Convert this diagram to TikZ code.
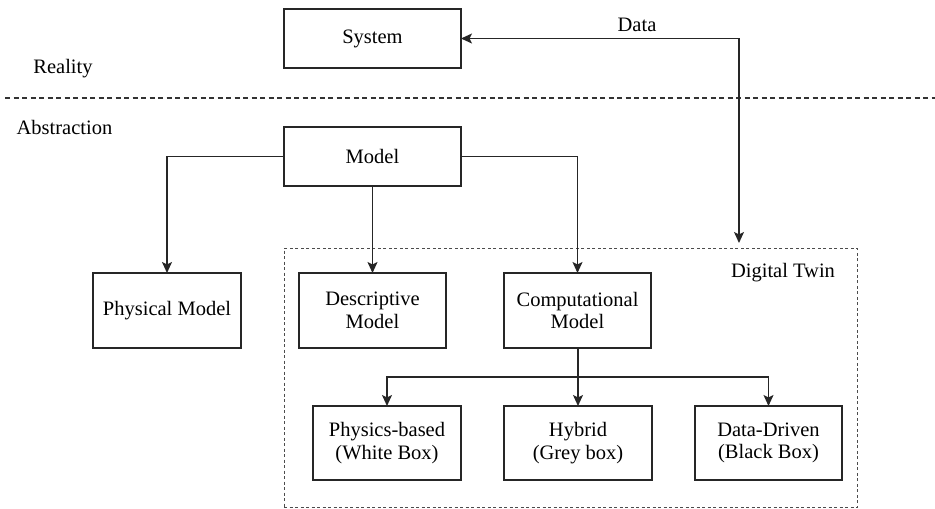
\documentclass[tikz,border=0pt]{standalone}
\usepackage{fontspec}
\setmainfont{Liberation Serif}
\newfontfamily\diagramfont{Liberation Serif}
\usetikzlibrary{arrows.meta}
\begin{document}
\begin{tikzpicture}[x=1pt,y=-1pt,
  font=\diagramfont\fontsize{20.5}{22.5}\selectfont,
  box/.style={draw=black!85, line width=1.5pt, align=center, inner sep=0pt, outer sep=0pt},
  wide/.style={box, minimum width=177pt, minimum height=59pt},
  mid/.style={box, minimum width=147pt, minimum height=75pt},
  low/.style={box, minimum width=147pt, minimum height=74pt},
  tip/.tip={Stealth[length=11pt,width=10pt,inset=2.5pt]},
  link/.style={draw=black!85, line width=1.5pt, -tip},
  twolink/.style={link, tip-tip},
  caption/.style={inner sep=0pt}]
\useasboundingbox (0,0) rectangle (935,509);

% layer separator and layer names
\coordinate (sepL) at (5,98);
\coordinate (sepR) at (935,98);
\draw[black!80, line width=1.1pt, dash pattern=on 5pt off 3.5pt] (sepL) -- (sepR);
\node[caption] (reality) at (63,69) {Reality};
\node[caption] (abstraction) at (64.5,127) {Abstraction};

% digital twin frame
\node[draw=black!70, line width=0.9pt, dash pattern=on 3pt off 2.5pt,
  minimum width=573pt, minimum height=259.5pt, inner sep=0pt]
  (twin) at (570.5,377.75) {};
\node[caption] (twinlabel) at (783,273) {Digital Twin};

% boxes
\node[wide] (system) at (372.5,38.5) {System};
\node[wide] (model) at (372.5,156.5) {Model};
\node[mid, minimum width=148pt] (physical) at (167,310.5) {Physical Model};
\node[mid] (descriptive) at (372.5,310.5) {Descriptive\\Model};
\node[mid] (computational) at (577.5,310.5) {Computational\\Model};
\node[low, minimum width=148pt] (physics) at (387,443) {Physics-based\\(White Box)};
\node[low, minimum width=148pt] (hybrid) at (578,443) {Hybrid\\(Grey box)};
\node[low] (datadriven) at (768.5,443) {Data-Driven\\(Black Box)};

% data exchange between system and digital twin
\coordinate (datatip) at (739,243);
\draw[twolink] (system.east) -| (datatip);
\node[caption] (datalabel) at (637,25) {Data};

% model hierarchy
\draw[link] (model.west) -| (physical.north);
\draw[link] (model.south) -- (descriptive.north);
\draw[link] (model.east) -| (computational.north);

% computational model variants
\coordinate (branch) at (578,377);
\draw[link] (computational.south -| hybrid.north) -- (hybrid.north);
\draw[link] (branch) -| (physics.north);
\draw[link] (branch) -| (datadriven.north);
\end{tikzpicture}
\end{document}
